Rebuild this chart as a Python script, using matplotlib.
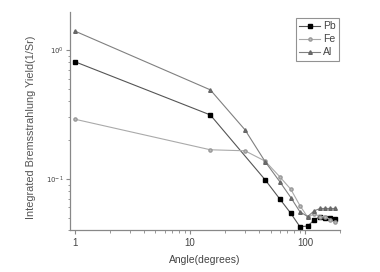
import matplotlib
matplotlib.use("Agg")
import matplotlib.pyplot as plt
from matplotlib.ticker import LogLocator, NullFormatter, FixedLocator, FixedFormatter

plt.rcParams['font.family'] = ['Liberation Sans', 'DejaVu Sans']

pb_angle = [1, 15, 45, 60, 75, 90, 105, 120, 135, 150, 165, 180]
pb_yield = [0.81, 0.313, 0.098, 0.070, 0.054, 0.0425, 0.043, 0.048, 0.051, 0.050, 0.050, 0.049]

fe_angle = [1, 15, 30, 45, 60, 75, 90, 105, 120, 135, 150, 165, 180]
fe_yield = [0.29, 0.168, 0.165, 0.137, 0.104, 0.083, 0.062, 0.0505, 0.0535, 0.051, 0.051, 0.048, 0.046]

al_angle = [1, 15, 30, 45, 60, 75, 90, 105, 120, 135, 150, 165, 180]
al_yield = [1.40, 0.49, 0.24, 0.1355, 0.0953, 0.0716, 0.0555, 0.051, 0.0565, 0.0589, 0.0589, 0.0589, 0.0589]

fig = plt.figure(figsize=(3.8, 2.72), dpi=100)
ax = fig.add_axes([0.184, 0.154, 0.711, 0.802])

ax.plot(pb_angle, pb_yield, color='#555555', lw=0.8, marker='s', ms=2.3,
        mfc='black', mec='black', label='Pb')
ax.plot(fe_angle, fe_yield, color='#aaaaaa', lw=0.8, marker='o', ms=2.3,
        mfc='#bbbbbb', mec='#999999', label='Fe')
ax.plot(al_angle, al_yield, color='#808080', lw=0.8, marker='^', ms=2.6,
        mfc='#777777', mec='#666666', label='Al')

ax.set_xscale('log')
ax.set_yscale('log')
ax.set_xlim(0.905, 201)
ax.set_ylim(0.040, 1.97)

for s in ['top', 'right']:
    ax.spines[s].set_visible(False)
for s in ['left', 'bottom']:
    ax.spines[s].set_color('#888888')
    ax.spines[s].set_linewidth(0.9)

ax.xaxis.set_major_locator(FixedLocator([1, 10, 100]))
ax.xaxis.set_major_formatter(FixedFormatter(['1', '10', '100']))
ax.xaxis.set_minor_locator(LogLocator(base=10, subs=range(2, 10)))
ax.xaxis.set_minor_formatter(NullFormatter())
ax.yaxis.set_major_locator(FixedLocator([0.1, 1]))
ax.yaxis.set_major_formatter(FixedFormatter([r'$10^{-1}$', r'$10^{0}$']))
ax.yaxis.set_minor_locator(LogLocator(base=10, subs=range(2, 10)))
ax.yaxis.set_minor_formatter(NullFormatter())

ax.tick_params(axis='x', which='major', length=3, width=0.8, color='#888888',
               labelsize=7, labelcolor='#444444', pad=3)
ax.tick_params(axis='x', which='minor', length=1.8, width=0.6, color='#888888')
ax.tick_params(axis='y', which='major', length=3, width=0.8, color='#888888',
               labelsize=5, labelcolor='#444444', pad=1.5)
ax.tick_params(axis='y', which='minor', length=1.8, width=0.6, color='#888888')

ax.set_xlabel('Angle(degrees)', fontsize=7.5, color='#444444', labelpad=5)
ax.set_ylabel('Integrated Bremsstrahlung Yield(1/Sr)', fontsize=7.8, color='#555555')
ax.yaxis.set_label_coords(-0.125, 0.47)

leg = ax.legend(loc='upper right', bbox_to_anchor=(0.996, 0.972), fontsize=7.5,
                frameon=True, fancybox=False, handlelength=2.0, handletextpad=0.3,
                borderpad=0.3, labelspacing=0.3, borderaxespad=0.0,
                labelcolor='#444444')
leg.get_frame().set_edgecolor('#777777')
leg.get_frame().set_linewidth(0.8)

fig.savefig('out.png', dpi=100)
